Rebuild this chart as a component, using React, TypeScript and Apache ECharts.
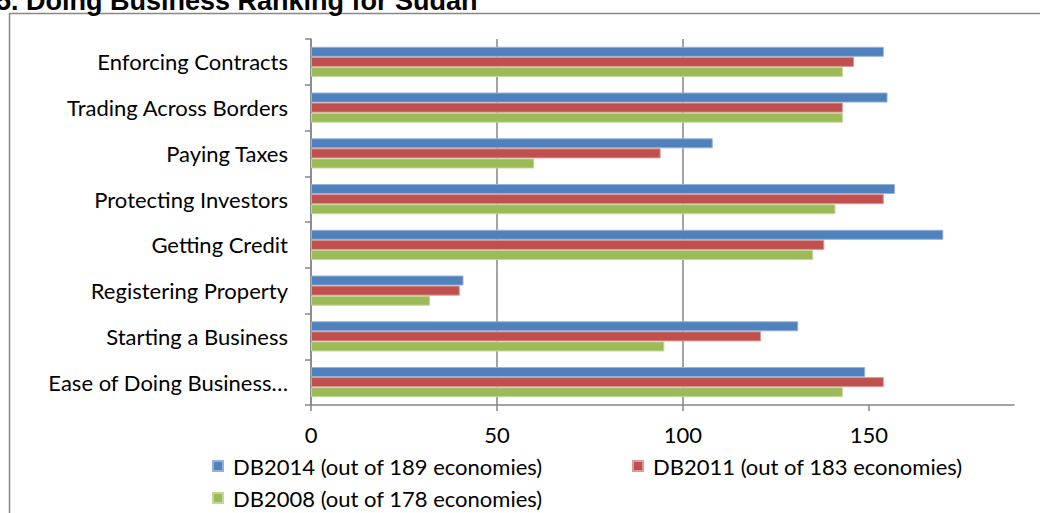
import React, { useEffect, useRef } from "react";
import * as echarts from "echarts";

const categories = [
  "Ease of Doing Business…",
  "Starting a Business",
  "Registering Property",
  "Getting Credit",
  "Protecting Investors",
  "Paying Taxes",
  "Trading Across Borders",
  "Enforcing Contracts",
];
const db2014 = [149, 131, 41, 170, 157, 108, 155, 154];
const db2011 = [154, 121, 40, 138, 154, 94, 143, 146];
const db2008 = [143, 95, 32, 135, 141, 60, 143, 143];
const xTicks = [0, 50, 100, 150];
const names = {
  s2014: "DB2014 (out of 189 economies)",
  s2011: "DB2011 (out of 183 economies)",
  s2008: "DB2008 (out of 178 economies)",
};
const title = "5. Doing Business Ranking for Sudan";

const FONT = "Lato, 'Open Sans', sans-serif";
const GRAY = "#868686";

export default function App() {
  const ref = useRef<HTMLDivElement>(null);
  useEffect(() => {
    const chart = echarts.init(ref.current!, null, { renderer: "svg" });
    const legendText = { fontFamily: FONT, fontSize: 22, color: "#000", padding: [0, 0, 0, 5] };
    const bar = (name: string, data: number[], color: string, border: string) => ({
      type: "bar",
      name,
      data,
      barGap: "0%",
      barCategoryGap: "34%",
      itemStyle: { color, borderColor: border, borderWidth: 1 },
    });
    chart.setOption({
      animation: false,
      grid: { left: 311, top: 39, right: 26, bottom: 108, containLabel: false },
      xAxis: {
        type: "value",
        min: 0,
        max: 189,
        interval: 50,
        axisLine: { show: true, lineStyle: { color: GRAY, width: 1.5 } },
        axisTick: { show: true, length: 6, lineStyle: { color: GRAY, width: 1.5 }, customValues: xTicks },
        axisLabel: { fontFamily: FONT, fontSize: 22, color: "#000", margin: 18, customValues: xTicks },
        splitLine: { show: true, showMaxLine: false, lineStyle: { color: GRAY, width: 1.5 } },
      },
      yAxis: {
        type: "category",
        data: categories,
        axisLine: { show: true, lineStyle: { color: GRAY, width: 1.5 } },
        axisTick: { show: true, length: 6, lineStyle: { color: GRAY, width: 1.5 } },
        axisLabel: { fontFamily: FONT, fontSize: 22, color: "#000", margin: 23 },
        splitLine: { show: false },
      },
      legend: [
        { data: [names.s2014], left: 212, top: 455, icon: "rect", itemWidth: 10, itemHeight: 10, textStyle: legendText, padding: 0 },
        { data: [names.s2011], left: 632, top: 455, icon: "rect", itemWidth: 10, itemHeight: 10, textStyle: legendText, padding: 0 },
        { data: [names.s2008], left: 212, top: 487, icon: "rect", itemWidth: 10, itemHeight: 10, textStyle: legendText, padding: 0 },
      ],
      series: [
        bar(names.s2014, db2014, "#4F81BD", "#95b3d7"),
        bar(names.s2011, db2011, "#C0504D", "#dc9a98"),
        bar(names.s2008, db2008, "#9BBB59", "#c3d69b"),
      ],
      graphic: [
        {
          type: "rect",
          shape: { x: 9.5, y: 13.5, width: 1040, height: 520 },
          style: { fill: "none", stroke: "#878787", lineWidth: 1.5 },
          silent: true,
        },
        {
          type: "text",
          x: -4,
          y: 14,
          style: {
            text: title,
            font: "bold 27px 'Liberation Sans', Arial, sans-serif",
            fill: "#000",
            verticalAlign: "bottom",
          },
        },
      ],
    });
    return () => chart.dispose();
  }, []);
  return (
    <div
      ref={ref}
      style={{ position: "fixed", left: 0, top: 0, width: 1040, height: 513, background: "#fff" }}
    />
  );
}
